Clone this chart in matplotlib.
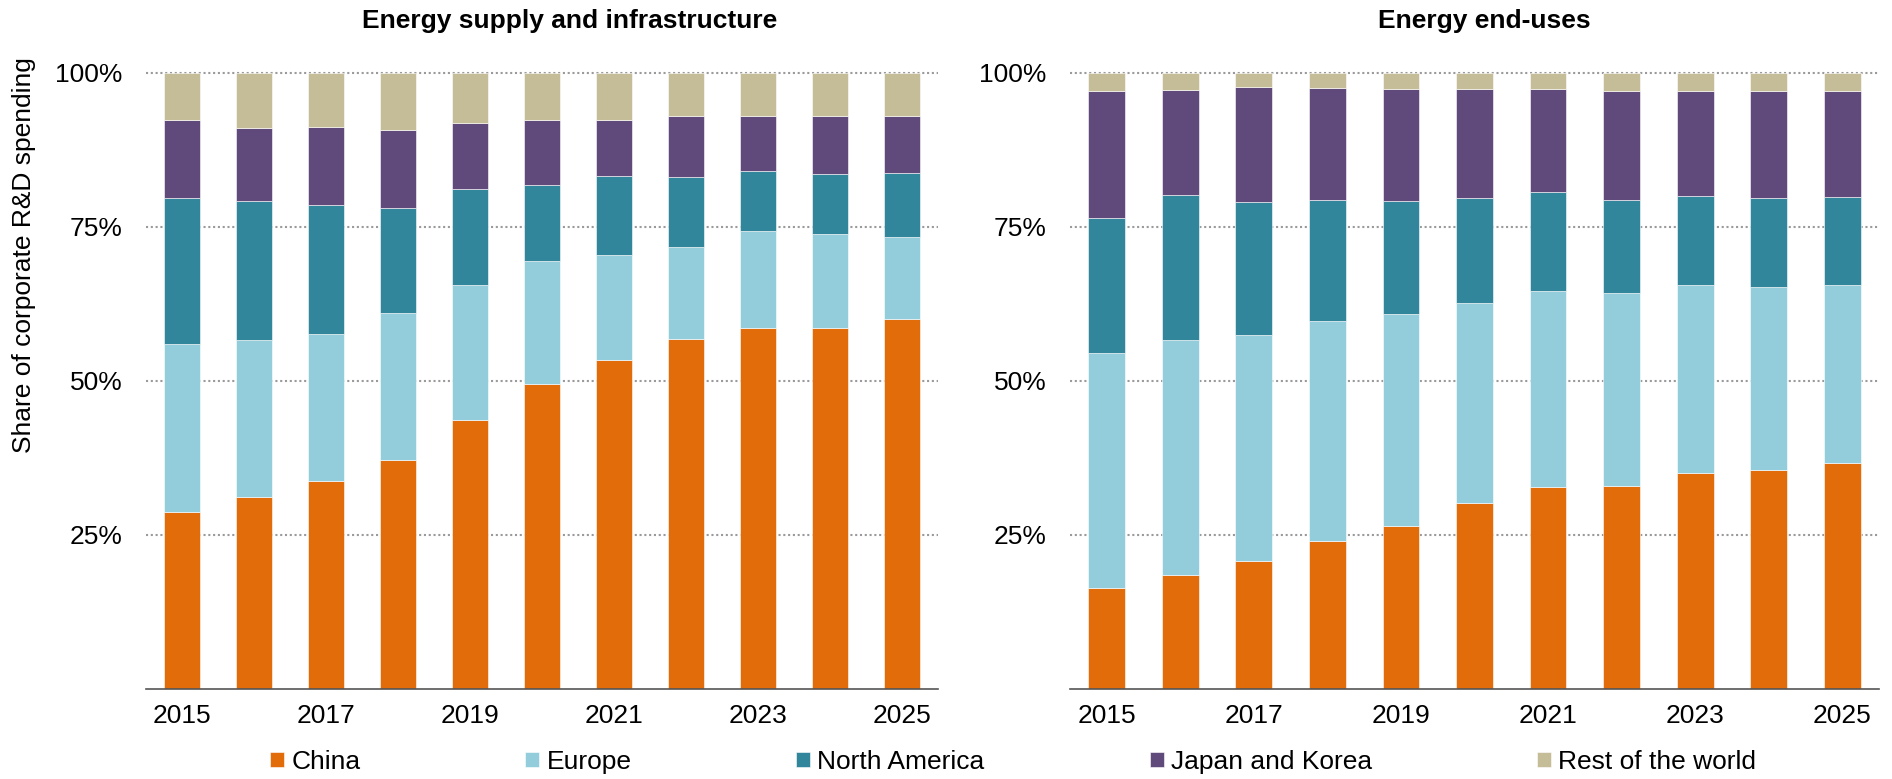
import matplotlib
matplotlib.use("Agg")
import matplotlib.pyplot as plt
import numpy as np

plt.rcParams['font.family'] = ['Liberation Sans', 'DejaVu Sans']

years = [2015, 2016, 2017, 2018, 2019, 2020, 2021, 2022, 2023, 2024, 2025]
regions = ["China", "Europe", "North America", "Japan and Korea", "Rest of the world"]
colors = ["#E36C0A", "#93CDDC", "#31869B", "#604A7B", "#C4BD97"]

# Energy supply and infrastructure (% share)
supply_china = [28.8, 31.2, 33.8, 37.2, 43.7, 49.5, 53.4, 56.8, 58.5, 58.5, 60.1]
supply_europe = [27.1, 25.5, 23.8, 23.8, 21.8, 19.9, 17.0, 14.9, 15.8, 15.3, 13.3]
supply_na = [23.8, 22.5, 20.9, 17.1, 15.7, 12.4, 12.8, 11.4, 9.7, 9.7, 10.4]
supply_jk = [12.6, 11.8, 12.7, 12.6, 10.6, 10.5, 9.1, 9.9, 9.0, 9.4, 9.2]
supply_rest = [7.7, 9.0, 8.8, 9.3, 8.2, 7.7, 7.7, 7.0, 7.0, 7.1, 7.0]

# Energy end-uses (% share)
enduse_china = [16.4, 18.5, 20.7, 24.0, 26.4, 30.1, 32.8, 33.0, 35.0, 35.6, 36.6]
enduse_europe = [38.1, 38.2, 36.8, 35.7, 34.5, 32.6, 31.7, 31.3, 30.5, 29.7, 28.9]
enduse_na = [22.0, 23.4, 21.6, 19.7, 18.3, 17.0, 16.2, 15.1, 14.5, 14.3, 14.4]
enduse_jk = [20.6, 17.1, 18.6, 18.1, 18.1, 17.7, 16.7, 17.7, 17.0, 17.4, 17.1]
enduse_rest = [2.9, 2.8, 2.3, 2.5, 2.7, 2.6, 2.6, 2.9, 3.0, 3.0, 3.0]

titles = ["Energy supply and infrastructure", "Energy end-uses"]
ytick_vals = [25, 50, 75, 100]
ytick_labels = ["25%", "50%", "75%", "100%"]
ylabel = "Share of corporate R&D spending"

panels = [
    [supply_china, supply_europe, supply_na, supply_jk, supply_rest],
    [enduse_china, enduse_europe, enduse_na, enduse_jk, enduse_rest],
]

FS = 19
W, H = 1892, 779
fig = plt.figure(figsize=(W / 100, H / 100), dpi=100)

bottom_px, top_px = 689, 72.7
ax_rects = [
    [146 / W, 1 - bottom_px / H, 792 / W, (bottom_px - top_px) / H],
    [1070 / W, 1 - bottom_px / H, 809 / W, (bottom_px - top_px) / H],
]

x = np.arange(len(years))
handles = None
for rect, series in zip(ax_rects, panels):
    ax = fig.add_axes(rect)
    base = np.zeros(len(years))
    hs = []
    for vals, col, name in zip(series, colors, regions):
        b = ax.bar(x, vals, bottom=base, width=0.5, color=col, label=name,
                   edgecolor="white", linewidth=0.4, zorder=3)
        hs.append(b)
        base = base + np.array(vals)
    handles = hs
    for v in ytick_vals:
        ax.axhline(v, color="#9a9a9a", linewidth=1.5, linestyle=(0, (1, 1.3)),
                   zorder=1, clip_on=False)
    ax.set_xlim(-0.5, len(years) - 0.5)
    ax.set_ylim(0, 100)
    ax.set_yticks(ytick_vals)
    ax.set_yticklabels(ytick_labels)
    ax.set_xticks(x[::2])
    ax.set_xticklabels([str(y) for y in years[::2]])
    ax.tick_params(axis="both", length=0, labelsize=FS, colors="#000000")
    ax.tick_params(axis="y", pad=17)
    ax.tick_params(axis="x", pad=11)
    for s in ["top", "right", "left"]:
        ax.spines[s].set_visible(False)
    ax.spines["bottom"].set_color("#555555")
    ax.spines["bottom"].set_linewidth(1.2)
    ax.spines["bottom"].set_zorder(4)

fig.text(570 / W, 1 - 21 / H, titles[0], ha="center", va="center",
         fontsize=FS, fontweight="bold")
fig.text(1484 / W, 1 - 21 / H, titles[1], ha="center", va="center",
         fontsize=FS, fontweight="bold")
fig.text(24 / W, 1 - 255 / H, ylabel, rotation=90, ha="center", va="center",
         fontsize=FS)

fig.legend(handles, regions, loc="center", bbox_to_anchor=(1013 / W, 1 - 762 / H),
           ncol=5, frameon=False, fontsize=FS, handlelength=0.53, handleheight=0.53,
           handletextpad=0.27, columnspacing=6.25, borderpad=0, borderaxespad=0)

fig.savefig("out.png", dpi=100)
